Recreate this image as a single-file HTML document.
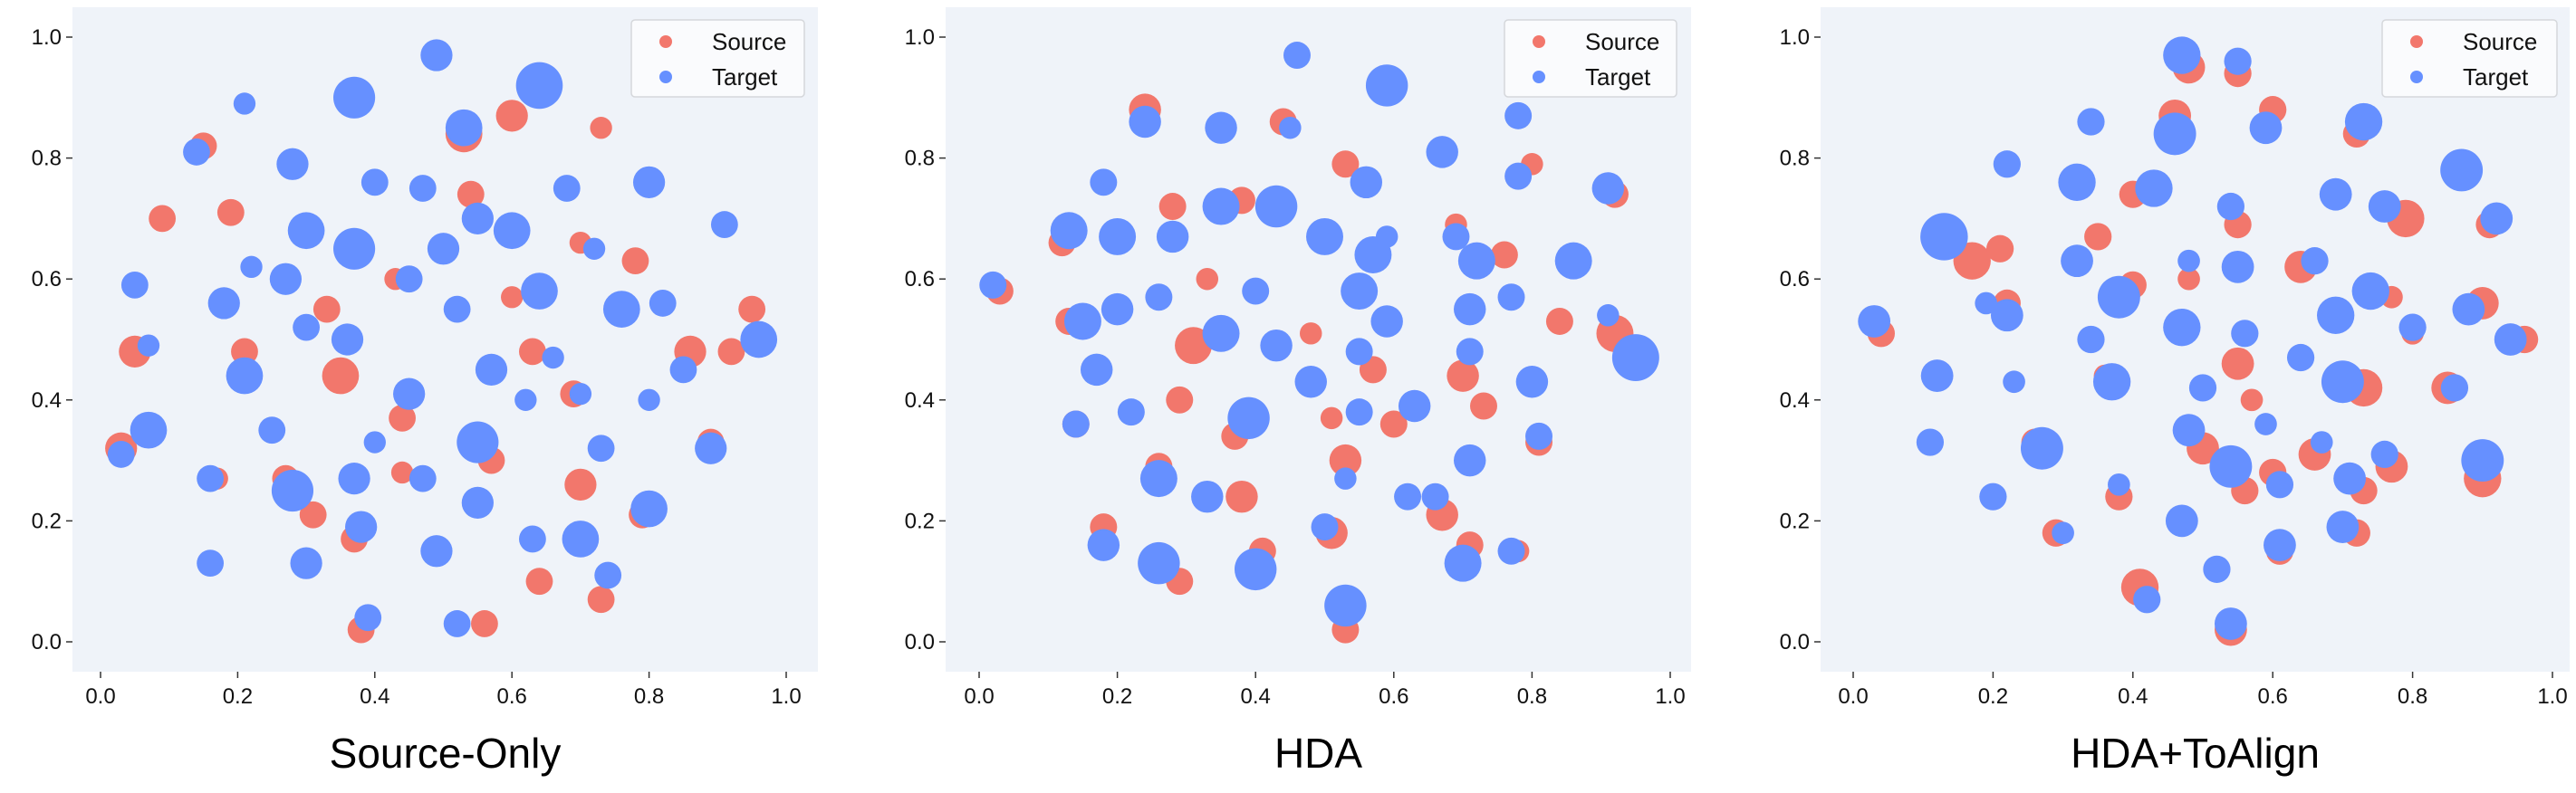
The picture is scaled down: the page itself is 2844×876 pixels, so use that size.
<!DOCTYPE html>
<html><head><meta charset="utf-8">
<style>
html,body{margin:0;padding:0;background:#fff;}
svg{display:block;font-family:"Liberation Sans","DejaVu Sans",sans-serif;}
</style></head>
<body>
<svg id="chart" width="2844" height="876" viewBox="0 0 2844 876"></svg>
<script>
const panelTitles = ["Source-Only", "HDA", "HDA+ToAlign"];
const tickLabels = ["0.0", "0.2", "0.4", "0.6", "0.8", "1.0"];
const tickValues = [0, 0.2, 0.4, 0.6, 0.8, 1.0];

// clusters: [x, y, radius] in data units
const p1Source = [[0.35,0.44,0.03],[0.60,0.87,0.025],[0.73,0.85,0.015],[0.53,0.84,0.03],[0.09,0.70,0.02],[0.05,0.48,0.025],[0.03,0.32,0.025],[0.70,0.26,0.025],[0.64,0.10,0.02],[0.73,0.07,0.02],[0.56,0.03,0.02],[0.38,0.02,0.02],[0.86,0.48,0.025],[0.95,0.55,0.02],[0.92,0.48,0.02],[0.78,0.63,0.02],[0.63,0.48,0.02],[0.69,0.41,0.02],[0.57,0.30,0.02],[0.44,0.37,0.02],[0.31,0.21,0.02],[0.37,0.17,0.02],[0.15,0.82,0.02],[0.19,0.71,0.02],[0.54,0.74,0.02],[0.36,0.90,0.02],[0.79,0.21,0.02],[0.89,0.33,0.02],[0.70,0.66,0.015],[0.33,0.55,0.02],[0.17,0.27,0.015],[0.43,0.60,0.015],[0.60,0.57,0.015],[0.21,0.48,0.02],[0.27,0.27,0.02],[0.44,0.28,0.015]];
const p1Target = [[0.49,0.97,0.025],[0.37,0.90,0.035],[0.64,0.92,0.04],[0.53,0.85,0.03],[0.28,0.79,0.025],[0.14,0.81,0.02],[0.21,0.89,0.015],[0.80,0.76,0.025],[0.91,0.69,0.02],[0.96,0.50,0.03],[0.82,0.56,0.02],[0.85,0.45,0.02],[0.89,0.32,0.025],[0.80,0.22,0.03],[0.70,0.17,0.03],[0.63,0.17,0.02],[0.74,0.11,0.02],[0.52,0.03,0.02],[0.39,0.04,0.02],[0.38,0.19,0.025],[0.30,0.13,0.025],[0.16,0.13,0.02],[0.16,0.27,0.02],[0.07,0.35,0.03],[0.03,0.31,0.02],[0.07,0.49,0.015],[0.05,0.59,0.02],[0.18,0.56,0.025],[0.21,0.44,0.03],[0.28,0.25,0.035],[0.37,0.27,0.025],[0.55,0.33,0.035],[0.55,0.23,0.025],[0.49,0.15,0.025],[0.47,0.27,0.02],[0.45,0.41,0.025],[0.57,0.45,0.025],[0.73,0.32,0.02],[0.76,0.55,0.03],[0.66,0.47,0.015],[0.64,0.58,0.03],[0.60,0.68,0.03],[0.55,0.70,0.025],[0.50,0.65,0.025],[0.45,0.60,0.02],[0.37,0.65,0.035],[0.30,0.68,0.03],[0.27,0.60,0.025],[0.30,0.52,0.02],[0.36,0.50,0.025],[0.25,0.35,0.02],[0.47,0.75,0.02],[0.68,0.75,0.02],[0.72,0.65,0.015],[0.40,0.76,0.02],[0.22,0.62,0.015],[0.80,0.40,0.015],[0.52,0.55,0.02],[0.62,0.40,0.015],[0.70,0.41,0.015],[0.40,0.33,0.015]];

const p2Source = [[0.24,0.88,0.025],[0.44,0.86,0.02],[0.53,0.79,0.02],[0.80,0.79,0.015],[0.92,0.74,0.02],[0.03,0.58,0.02],[0.12,0.66,0.02],[0.31,0.49,0.03],[0.92,0.51,0.03],[0.84,0.53,0.02],[0.69,0.69,0.015],[0.76,0.64,0.02],[0.70,0.44,0.025],[0.73,0.39,0.02],[0.60,0.36,0.02],[0.57,0.45,0.02],[0.51,0.37,0.015],[0.53,0.30,0.025],[0.38,0.24,0.025],[0.26,0.29,0.02],[0.18,0.19,0.02],[0.29,0.10,0.02],[0.41,0.15,0.02],[0.53,0.02,0.02],[0.51,0.18,0.025],[0.67,0.21,0.025],[0.71,0.16,0.02],[0.78,0.15,0.015],[0.81,0.33,0.02],[0.29,0.40,0.02],[0.14,0.36,0.02],[0.33,0.60,0.015],[0.37,0.34,0.02],[0.28,0.72,0.02],[0.38,0.73,0.02],[0.13,0.53,0.02],[0.48,0.51,0.015]];
const p2Target = [[0.46,0.97,0.02],[0.59,0.92,0.035],[0.24,0.86,0.025],[0.35,0.85,0.025],[0.45,0.85,0.015],[0.67,0.81,0.025],[0.78,0.87,0.02],[0.78,0.77,0.02],[0.91,0.75,0.025],[0.18,0.76,0.02],[0.56,0.76,0.025],[0.02,0.59,0.02],[0.13,0.68,0.03],[0.20,0.67,0.03],[0.28,0.67,0.025],[0.35,0.72,0.03],[0.43,0.72,0.035],[0.50,0.67,0.03],[0.57,0.64,0.03],[0.69,0.67,0.02],[0.72,0.63,0.03],[0.86,0.63,0.03],[0.95,0.47,0.04],[0.91,0.54,0.015],[0.77,0.57,0.02],[0.80,0.43,0.025],[0.81,0.34,0.02],[0.71,0.55,0.025],[0.71,0.48,0.02],[0.71,0.30,0.025],[0.63,0.39,0.025],[0.59,0.53,0.025],[0.55,0.58,0.03],[0.55,0.48,0.02],[0.48,0.43,0.025],[0.43,0.49,0.025],[0.40,0.58,0.02],[0.35,0.51,0.03],[0.39,0.37,0.035],[0.15,0.53,0.03],[0.20,0.55,0.025],[0.17,0.45,0.025],[0.14,0.36,0.02],[0.22,0.38,0.02],[0.26,0.57,0.02],[0.26,0.27,0.03],[0.33,0.24,0.025],[0.18,0.16,0.025],[0.26,0.13,0.035],[0.40,0.12,0.035],[0.53,0.06,0.035],[0.50,0.19,0.02],[0.53,0.27,0.015],[0.55,0.38,0.02],[0.62,0.24,0.02],[0.66,0.24,0.02],[0.70,0.13,0.03],[0.77,0.15,0.02],[0.59,0.67,0.015]];

const p3Source = [[0.48,0.95,0.025],[0.55,0.94,0.02],[0.46,0.87,0.025],[0.60,0.88,0.02],[0.72,0.84,0.02],[0.79,0.70,0.03],[0.91,0.69,0.02],[0.17,0.63,0.03],[0.21,0.65,0.02],[0.04,0.51,0.02],[0.40,0.74,0.02],[0.35,0.67,0.02],[0.40,0.59,0.02],[0.48,0.60,0.015],[0.55,0.69,0.02],[0.55,0.46,0.025],[0.57,0.40,0.015],[0.50,0.32,0.025],[0.56,0.25,0.02],[0.60,0.28,0.02],[0.73,0.42,0.03],[0.66,0.31,0.025],[0.73,0.25,0.02],[0.77,0.29,0.025],[0.72,0.18,0.02],[0.64,0.62,0.025],[0.90,0.56,0.025],[0.96,0.50,0.02],[0.85,0.42,0.025],[0.90,0.27,0.03],[0.38,0.24,0.02],[0.29,0.18,0.02],[0.41,0.09,0.03],[0.54,0.02,0.025],[0.26,0.33,0.02],[0.36,0.44,0.015],[0.22,0.56,0.02],[0.77,0.57,0.015],[0.61,0.15,0.02],[0.80,0.51,0.015]];
const p3Target = [[0.47,0.97,0.03],[0.55,0.96,0.02],[0.46,0.84,0.035],[0.59,0.85,0.025],[0.73,0.86,0.03],[0.34,0.86,0.02],[0.22,0.79,0.02],[0.32,0.76,0.03],[0.43,0.75,0.03],[0.54,0.72,0.02],[0.69,0.74,0.025],[0.76,0.72,0.025],[0.87,0.78,0.035],[0.92,0.70,0.025],[0.03,0.53,0.025],[0.13,0.67,0.04],[0.19,0.56,0.015],[0.22,0.54,0.025],[0.12,0.44,0.025],[0.23,0.43,0.015],[0.11,0.33,0.02],[0.27,0.32,0.035],[0.20,0.24,0.02],[0.30,0.18,0.015],[0.38,0.26,0.015],[0.37,0.43,0.03],[0.34,0.50,0.02],[0.32,0.63,0.025],[0.38,0.57,0.035],[0.47,0.52,0.03],[0.48,0.63,0.015],[0.55,0.62,0.025],[0.56,0.51,0.02],[0.50,0.42,0.02],[0.48,0.35,0.025],[0.54,0.29,0.035],[0.59,0.36,0.015],[0.61,0.26,0.02],[0.61,0.16,0.025],[0.66,0.63,0.02],[0.69,0.54,0.03],[0.74,0.58,0.03],[0.70,0.43,0.035],[0.71,0.27,0.025],[0.76,0.31,0.02],[0.67,0.33,0.015],[0.80,0.52,0.02],[0.88,0.55,0.025],[0.94,0.50,0.025],[0.86,0.42,0.02],[0.90,0.30,0.035],[0.70,0.19,0.025],[0.47,0.20,0.025],[0.52,0.12,0.02],[0.54,0.03,0.025],[0.42,0.07,0.02],[0.64,0.47,0.02]];

const panelSources = [p1Source, p2Source, p3Source];
const panelTargets = [p1Target, p2Target, p3Target];

const NS = "http://www.w3.org/2000/svg";
const svg = document.getElementById('chart');
const RED = "#F2776C", BLUE = "#6690FF";
const layouts = [
  {ax0:80, ax1:903, x0:111, x1:868, leg0:697, leg1:888},
  {ax0:1044, ax1:1867, x0:1081, x1:1844, leg0:1661, leg1:1851},
  {ax0:2010, ax1:2837, x0:2046, x1:2818, leg0:2630, leg1:2823}
];
const AY0 = 8, AY1 = 742, Y0 = 709, Y1 = 41;

function mk(tag, attrs, parent){
  const e = document.createElementNS(NS, tag);
  for (const k in attrs) e.setAttribute(k, attrs[k]);
  (parent||svg).appendChild(e);
  return e;
}

layouts.forEach((L, i) => {
  const xs = v => L.x0 + v*(L.x1-L.x0);
  const ys = v => Y0 - v*(Y0-Y1);
  const g = mk('g', {});
  
  
  const bg = mk('rect', {x:L.ax0, y:AY0, width:L.ax1-L.ax0, height:AY1-AY0, fill:'#EFF3F9'}, g);
  
  

  tickValues.forEach((t, k) => {
    const tx = mk('line', {x1:xs(t), x2:xs(t), y1:AY1, y2:AY1+7, stroke:'#333', 'stroke-width':1.5}, g);
    
    
    const lx = mk('text', {x:xs(t), y:AY1+35, 'font-size':24, 'text-anchor':'middle', fill:'#111'}, g);
    lx.textContent = tickLabels[k];
    
    
    const ty = mk('line', {x1:L.ax0-7, x2:L.ax0, y1:ys(t), y2:ys(t), stroke:'#333', 'stroke-width':1.5}, g);
    
    
    const ly = mk('text', {x:L.ax0-12, y:ys(t)+8, 'font-size':24, 'text-anchor':'end', fill:'#111'}, g);
    ly.textContent = tickLabels[k];
    
    
  });

  const scale = (L.x1-L.x0);
  panelSources[i].forEach(c => {
    const m = mk('circle', {cx:xs(c[0]), cy:ys(c[1]), r:c[2]*scale*0.72+4, fill:RED}, g);
    
    
  });
  panelTargets[i].forEach(c => {
    const m = mk('circle', {cx:xs(c[0]), cy:ys(c[1]), r:c[2]*scale*0.72+4, fill:BLUE}, g);
    
    
  });

  const lg = mk('g', {}, g);
  
  
  mk('rect', {x:L.leg0, y:22, width:L.leg1-L.leg0, height:85, rx:4, fill:'#FAFBFD', stroke:'#D5D7DB', 'stroke-width':1.5}, lg);
  [['Source', RED, 46], ['Target', BLUE, 85]].forEach(e => {
    const c = mk('circle', {cx:L.leg0+38, cy:e[2], r:7, fill:e[1]}, lg);
    
    
    const t = mk('text', {x:L.leg0+89, y:e[2]+9, 'font-size':26, fill:'#111'}, lg);
    t.textContent = e[0];
    
    
  });

  const title = mk('text', {x:(L.ax0+L.ax1)/2, y:848, 'font-size':46, 'text-anchor':'middle', fill:'#000'}, g);
  title.textContent = panelTitles[i];
  
  
});
</script>
</body></html>
